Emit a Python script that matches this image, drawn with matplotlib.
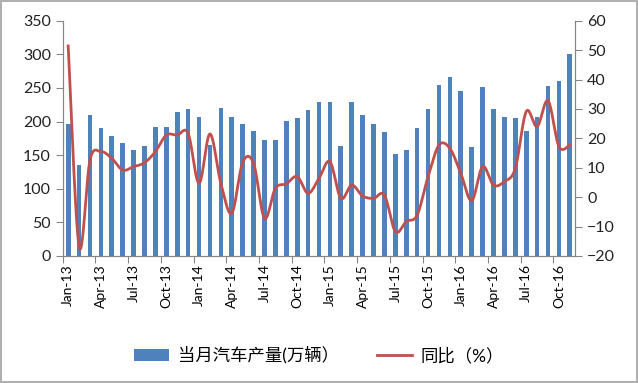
import numpy as np
import matplotlib
matplotlib.use("Agg")
from matplotlib import pyplot as plt

plt.rcParams['font.family'] = ['Lato', 'Noto Sans CJK SC', 'DejaVu Sans']

# monthly data, Jan-13 .. Nov-16
months = ["Jan-13", "Feb-13", "Mar-13", "Apr-13", "May-13", "Jun-13", "Jul-13", "Aug-13",
          "Sep-13", "Oct-13", "Nov-13", "Dec-13", "Jan-14", "Feb-14", "Mar-14", "Apr-14",
          "May-14", "Jun-14", "Jul-14", "Aug-14", "Sep-14", "Oct-14", "Nov-14", "Dec-14",
          "Jan-15", "Feb-15", "Mar-15", "Apr-15", "May-15", "Jun-15", "Jul-15", "Aug-15",
          "Sep-15", "Oct-15", "Nov-15", "Dec-15", "Jan-16", "Feb-16", "Mar-16", "Apr-16",
          "May-16", "Jun-16", "Jul-16", "Aug-16", "Sep-16", "Oct-16", "Nov-16"]
production = [196, 136, 209, 190, 178, 168, 158, 163, 192, 192, 214, 218,
              206, 165, 220, 207, 197, 186, 172, 172, 201, 205, 217, 229,
              229, 163, 229, 209, 196, 185, 152, 157, 190, 219, 254, 266,
              246, 162, 252, 218, 206, 205, 186, 207, 253, 260, 301]
yoy = [51.4, -16.8, 12.6, 15.5, 13.2, 9.2, 10.4, 11.7, 15.5, 21.1, 21.1, 21.7,
       4.7, 21.5, 4.7, -5.5, 11.8, 11.5, -7.2, 3.0, 4.5, 7.0, 1.3, 6.4,
       12.1, -0.4, 4.1, 0.4, -0.4, 0.7, -11.7, -8.3, -6.1, 7.0, 17.7, 16.6,
       8.1, -1.2, 10.4, 4.1, 5.3, 9.8, 29.1, 24.0, 32.8, 17.2, 17.7]


def smooth_line(xs, ys, n=24):
    # catmull-rom curve, like excel's "smoothed line"
    xs = np.asarray(xs, float)
    ys = np.asarray(ys, float)
    outx, outy = [], []
    last = len(xs) - 1
    for i in range(last):
        i0, i3 = max(i - 1, 0), min(i + 2, last)
        t = np.linspace(0, 1, n, endpoint=(i == last - 1))
        for arr, out in ((xs, outx), (ys, outy)):
            p0, p1, p2, p3 = arr[i0], arr[i], arr[i + 1], arr[i3]
            out.extend(0.5 * ((2 * p1) + (-p0 + p2) * t
                              + (2 * p0 - 5 * p1 + 4 * p2 - p3) * t ** 2
                              + (-p0 + 3 * p1 - 3 * p2 + p3) * t ** 3))
    return outx, outy


fig = plt.figure(figsize=(6.38, 3.83), dpi=100)
fig.patch.set_edgecolor('#b0b0b0')
fig.patch.set_linewidth(1.5)
ax = fig.add_axes([0.0983, 0.3316, 0.8034, 0.6144])
ax2 = ax.twinx()

x = np.arange(len(months))
bars = ax.bar(x, production, width=0.43, color='#4f81bd', label='当月汽车产量(万辆）', zorder=2)
sx, sy = smooth_line(x, yoy)
line, = ax2.plot(sx, sy, color='#c0504d', lw=2, label='同比（%）')

ax.set_xlim(-0.5, len(months) - 0.5)
ax.set_ylim(0, 350)
ax.set_yticks(range(0, 351, 50))
ax2.set_ylim(-20, 60)
ax2.set_yticks(range(-20, 61, 10))

ax.set_xticks(np.arange(-0.5, len(months) - 1, 3))
ax.set_xticklabels([])
ax.set_xticks(x[::3], minor=True)
ax.set_xticklabels(months[::3], minor=True, rotation=90)
ax.tick_params(axis='x', which='minor', length=0, pad=6)
ax.tick_params(axis='x', which='major', length=5, color='#868686')

for a in (ax, ax2):
    a.spines['top'].set_visible(False)
    for s in ('left', 'right', 'bottom'):
        a.spines[s].set_color('#868686')
    a.tick_params(axis='y', length=5, color='#868686', labelsize=11.5, labelcolor='#222222')
    a.tick_params(axis='x', labelsize=11.5, labelcolor='#222222')

fig.legend([bars, line], ['当月汽车产量(万辆）', '同比（%）'], loc='center',
           bbox_to_anchor=(0.5, 0.073), ncol=2, frameon=False, fontsize=12.5,
           handlelength=2.0, handleheight=0.7, handletextpad=0.5, columnspacing=2.2)

fig.savefig('out.png', dpi=100)
